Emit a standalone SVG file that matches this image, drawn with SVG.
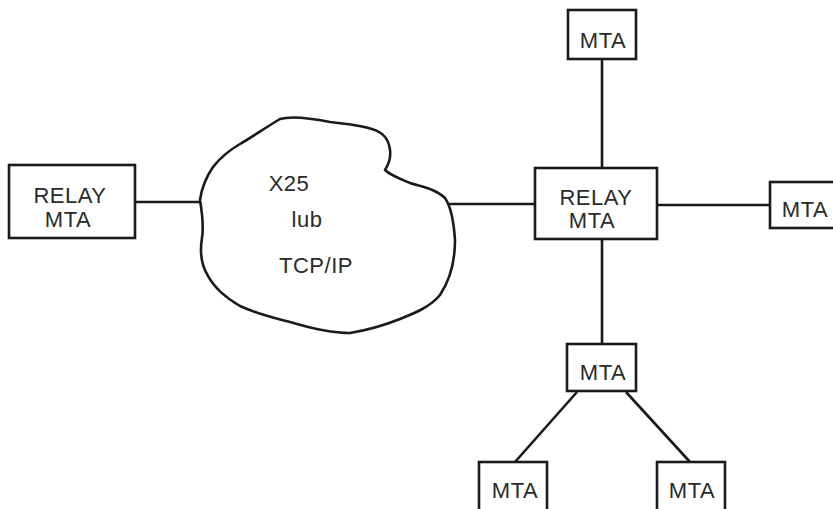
<svg xmlns="http://www.w3.org/2000/svg" width="833" height="509" viewBox="0 0 833 509">
  <style>
    .box { fill: #ffffff; stroke: #1a1a1a; stroke-width: 2.6; }
    .line { stroke: #1a1a1a; stroke-width: 2.6; fill: none; stroke-linecap: butt; }
    .cloud { fill: #ffffff; stroke: #1a1a1a; stroke-width: 2.6; stroke-linejoin: round; }
    .lbl { font-family: "Liberation Sans", Arial, sans-serif; font-size: 22px; fill: #2a2a2a; text-anchor: middle; letter-spacing: 0.5px; }
  </style>
  <rect width="833" height="509" fill="#ffffff"/>

  <!-- connectors -->
  <g id="connectors">
    <line class="line" x1="135" y1="202" x2="203" y2="202"/>
    <line class="line" x1="448" y1="204" x2="535" y2="204"/>
    <line class="line" x1="602" y1="59" x2="602" y2="168"/>
    <line class="line" x1="657" y1="205" x2="770" y2="205"/>
    <line class="line" x1="602" y1="239" x2="602" y2="344"/>
    <line class="line" x1="577" y1="392" x2="515" y2="462"/>
    <line class="line" x1="626" y1="392" x2="690" y2="462"/>
  </g>

  <!-- network cloud -->
  <g id="network">
    <path class="cloud" d="M200,200 C201,193 204,180 213,167 C220,158 228,151 240,144 C252,137 265,128 280,119 C290,116 305,117 330,122 C345,124 360,125 372,129 C386,133 389,142 390,150 C391,158 389,164 385,170 C390,175 398,178 410,183 C422,187 436,189 445,198 C452,208 454,225 455,240 C455,260 450,280 440,295 C430,307 415,313 400,319 C385,325 368,330 350,333 C330,333 310,328 290,322 C270,317 255,313 240,306 C228,299 215,289 208,276 C200,263 200,250 202,238 C204,225 202,212 200,200 Z"/>
    <text class="lbl" x="289" y="191">X25</text>
    <text class="lbl" x="307" y="227">lub</text>
    <text class="lbl" x="316" y="273">TCP/IP</text>
  </g>

  <g id="relay-left">
    <rect class="box" x="9" y="165" width="126" height="73"/>
    <text class="lbl" x="70" y="203">RELAY</text>
    <text class="lbl" x="68" y="227">MTA</text>
  </g>

  <g id="relay-right">
    <rect class="box" x="535" y="168" width="122" height="71"/>
    <text class="lbl" x="596" y="205">RELAY</text>
    <text class="lbl" x="592" y="228">MTA</text>
  </g>

  <g id="mta-top">
    <rect class="box" x="568" y="10" width="68" height="49"/>
    <text class="lbl" x="603" y="48">MTA</text>
  </g>

  <g id="mta-right">
    <rect class="box" x="770" y="182" width="70" height="46"/>
    <text class="lbl" x="805" y="217">MTA</text>
  </g>

  <g id="mta-mid">
    <rect class="box" x="567" y="344" width="69" height="47"/>
    <text class="lbl" x="603" y="380">MTA</text>
  </g>

  <g id="mta-bottom-left">
    <rect class="box" x="479" y="462" width="68" height="55"/>
    <text class="lbl" x="515" y="498">MTA</text>
  </g>

  <g id="mta-bottom-right">
    <rect class="box" x="657" y="462" width="68" height="55"/>
    <text class="lbl" x="692" y="498">MTA</text>
  </g>
</svg>
